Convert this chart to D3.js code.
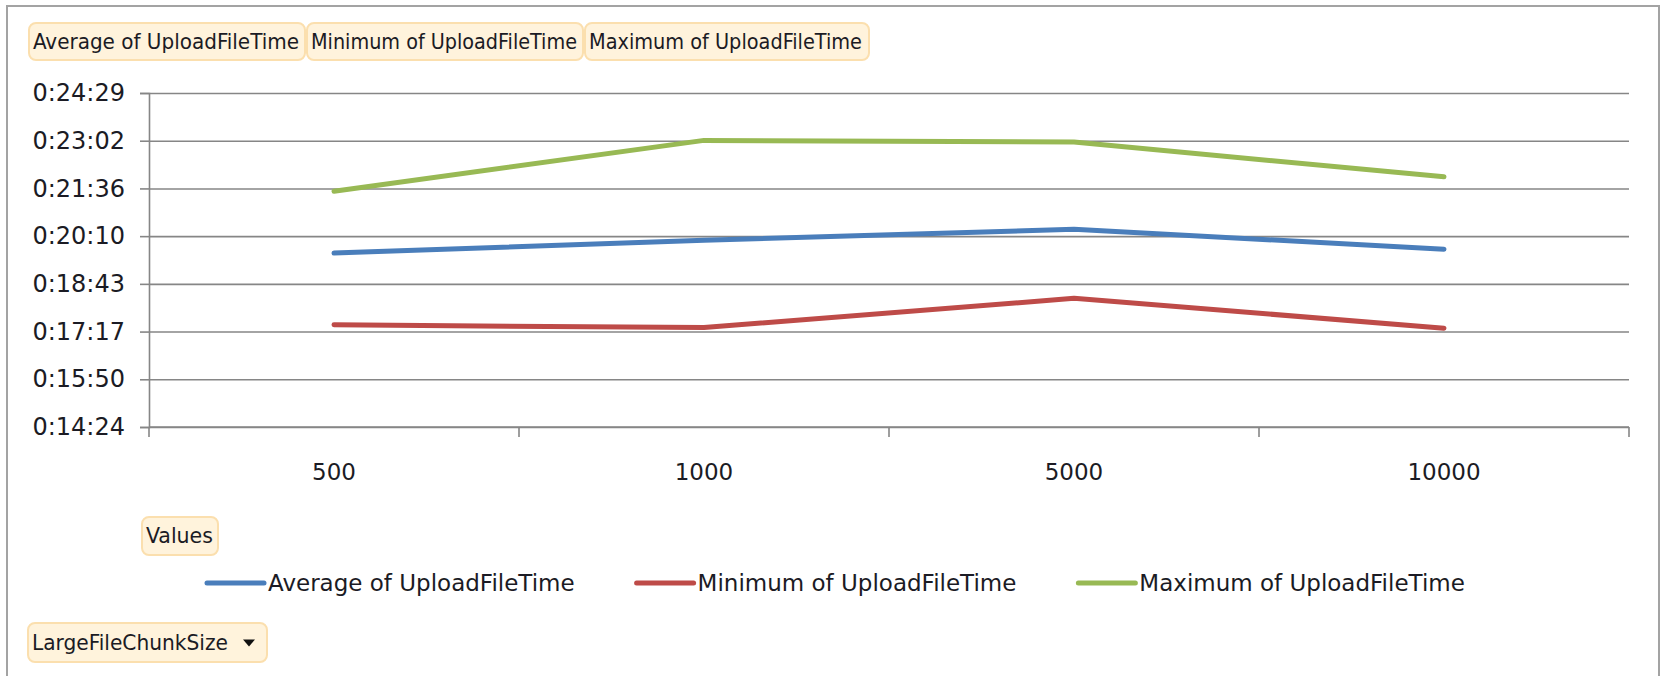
<!DOCTYPE html>
<html>
<head>
<meta charset="utf-8">
<script src="https://cdn.jsdelivr.net/npm/d3@7"></script>
<style>
  html, body { margin: 0; padding: 0; background: #ffffff; }
  svg { display: block; }
</style>
</head>
<body>
<svg id="chart"></svg>
<script>
// categories (LargeFileChunkSize) and series values, in seconds
const categories = ["500", "1000", "5000", "10000"];
const seriesNames = ["Average of UploadFileTime", "Minimum of UploadFileTime", "Maximum of UploadFileTime"];
const avgTime = [1179, 1202, 1222, 1186];
const minTime = [1049, 1044, 1097, 1043];
const maxTime = [1291, 1383, 1380, 1317];
const seriesColors = ["#4a7ebb", "#be4b48", "#98b954"];

// y ticks (Excel day fractions 0.010 .. 0.017, shown as h:mm:ss)
const yTickValues = [864, 950.4, 1036.8, 1123.2, 1209.6, 1296, 1382.4, 1468.8];
const yTickLabels = ["0:14:24", "0:15:50", "0:17:17", "0:18:43", "0:20:10", "0:21:36", "0:23:02", "0:24:29"];

const fieldButtons = ["Average of UploadFileTime", "Minimum of UploadFileTime", "Maximum of UploadFileTime"];

// page / chart dimensions
const width = 1662;
const height = 676;
const marginTop = 93;
const marginBottom = 249;
const marginLeft = 149;
const marginRight = 33;

const font = "'DejaVu Sans', Verdana, sans-serif";
const textColor = "#1b1b24";

const svg = d3.select("#chart")
	.attr("width", width)
	.attr("height", height)
	.attr("viewBox", [0, 0, width, height]);

// outer frame
svg.append("rect")
	.attr("x", 7)
	.attr("y", 6)
	.attr("width", 1652)
	.attr("height", 700)
	.attr("fill", "none")
	.attr("stroke", "#a3a3a3")
	.attr("stroke-width", 2);

// scales
const x = d3.scaleBand(categories, [marginLeft, width - marginRight]).padding(0);
const y = d3.scaleLinear([864, 1468.8], [height - marginBottom, marginTop]);

// y axis with gridlines
svg.append("g")
	.attr("transform", `translate(${marginLeft},0)`)
	.call(d3.axisLeft(y)
		.tickValues(yTickValues)
		.tickFormat((d, i) => yTickLabels[i])
		.tickSize(9)
		.tickPadding(15))
	.call(g => g.select(".domain").attr("stroke", "#868686").attr("stroke-width", 1.6))
	.call(g => g.selectAll(".tick line").attr("stroke", "#868686").attr("stroke-width", 1.6))
	.call(g => g.selectAll(".tick line").clone()
		.attr("x1", 0)
		.attr("x2", width - marginLeft - marginRight))
	.call(g => g.selectAll(".tick text")
		.attr("font-family", font)
		.attr("font-size", "24px")
		.attr("fill", textColor));

// x axis: ticks between categories, labels in the bands
const xAxis = svg.append("g")
	.attr("transform", `translate(0,${height - marginBottom})`);

xAxis.append("line")
	.attr("x1", marginLeft)
	.attr("x2", width - marginRight)
	.attr("stroke", "#868686")
	.attr("stroke-width", 1.6);

const bounds = categories.map(c => x(c)).concat([x(categories[categories.length - 1]) + x.bandwidth()]);
xAxis.selectAll(".sep")
	.data(bounds)
	.join("line")
	.attr("x1", d => d)
	.attr("x2", d => d)
	.attr("y1", 0)
	.attr("y2", 10)
	.attr("stroke", "#868686")
	.attr("stroke-width", 1.6);

xAxis.selectAll(".lbl")
	.data(categories)
	.join("text")
	.attr("x", d => x(d) + x.bandwidth() / 2)
	.attr("y", 46)
	.attr("text-anchor", "middle")
	.attr("dominant-baseline", "middle")
	.attr("font-family", font)
	.attr("font-size", "23px")
	.attr("fill", textColor)
	.text(d => d);

// lines
const allSeries = [avgTime, minTime, maxTime];
const line = d3.line()
	.x((d, i) => x(categories[i]) + x.bandwidth() / 2)
	.y(d => y(d));

svg.selectAll(".series")
	.data(allSeries)
	.join("path")
	.attr("fill", "none")
	.attr("stroke", (d, i) => seriesColors[i])
	.attr("stroke-width", 5)
	.attr("stroke-linecap", "round")
	.attr("stroke-linejoin", "round")
	.attr("d", line);

// pivot field buttons
function fieldButton(x0, y0, w, h, label, textLen, arrow) {
	const g = svg.append("g");
	g.append("rect")
		.attr("x", x0)
		.attr("y", y0)
		.attr("width", w)
		.attr("height", h)
		.attr("rx", 7)
		.attr("fill", "#fff3dc")
		.attr("stroke", "#fbdfae")
		.attr("stroke-width", 2);
	const t = g.append("text")
		.attr("x", x0 + 4)
		.attr("y", y0 + h / 2 + 1)
		.attr("dominant-baseline", "middle")
		.attr("font-family", "'DejaVu Sans Condensed', 'DejaVu Sans', sans-serif")
		.attr("font-size", "21px")
		.attr("fill", textColor)
		.text(label);
	if (textLen) t.attr("textLength", textLen).attr("lengthAdjust", "spacingAndGlyphs");
	if (arrow) {
		const ax = x0 + w - 24, ay = y0 + h / 2 - 3;
		g.append("path")
			.attr("d", `M${ax},${ay}L${ax + 12},${ay}L${ax + 6},${ay + 7}Z`)
			.attr("fill", "#111");
	}
}

const headerX = [29, 307, 585];
const headerW = [276, 276, 284];
const headerText = [266, 266, 273];
fieldButtons.forEach((b, i) => fieldButton(headerX[i], 23, headerW[i], 37, b, headerText[i], false));
fieldButton(142, 517, 76, 38, "Values", 67, false);
fieldButton(28, 623, 239, 39, "LargeFileChunkSize", 196, true);

// legend
const legend = svg.append("g").attr("transform", "translate(0,583)");
let lx = 207;
seriesNames.forEach((name, i) => {
	legend.append("line")
		.attr("x1", lx)
		.attr("x2", lx + 57)
		.attr("stroke", seriesColors[i])
		.attr("stroke-width", 5)
		.attr("stroke-linecap", "round");
	const t = legend.append("text")
		.attr("x", lx + 61)
		.attr("y", 1)
		.attr("dominant-baseline", "middle")
		.attr("font-family", font)
		.attr("font-size", "23px")
		.attr("fill", textColor)
		.text(name);
	lx += 61 + t.node().getComputedTextLength() + 62;
});
</script>
</body>
</html>
